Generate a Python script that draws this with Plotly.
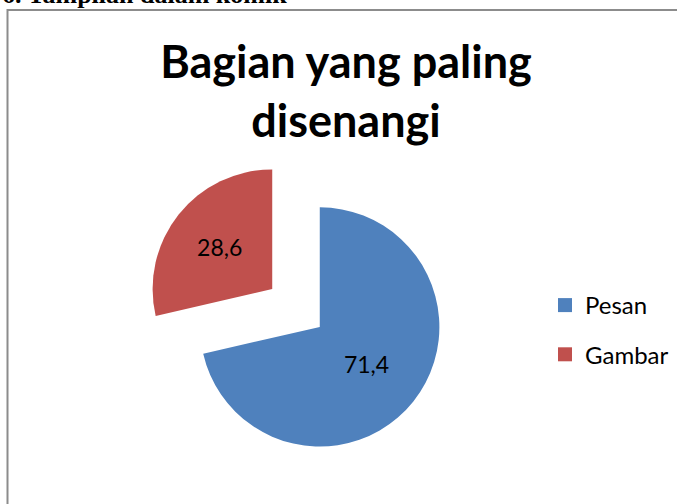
import plotly.graph_objects as go

TITLE = "Bagian yang paling<br>disenangi"
HEADING = "6. Tampilan dalam komik"

labels = ["Pesan", "Gambar"]
values = [71.4, 28.6]
colors = ["#4F81BD", "#C0504D"]

W, H = 677, 504
FONT = "Lato"

fig = go.Figure()

fig.add_trace(
    go.Pie(
        labels=labels,
        values=values,
        sort=False,
        direction="clockwise",
        rotation=0,
        pull=[0.254, 0.254],
        marker=dict(colors=colors, line=dict(width=0)),
        texttemplate="%{value:.1f}",
        textposition="inside",
        insidetextorientation="horizontal",
        textfont=dict(family=FONT, size=23, color="black"),
        hoverinfo="label+value",
        showlegend=False,
        domain=dict(x=[146 / W, 446 / W], y=[46 / H, 346 / H]),
    )
)

# legend entries, spaced like the Excel legend
for lab, col in zip(labels, colors):
    fig.add_trace(
        go.Scatter(
            x=[None], y=[None], mode="markers", name=lab, legendgroup=lab,
            marker=dict(symbol="square", size=14, color=col),
            hoverinfo="skip",
        )
    )

fig.update_layout(
    width=W,
    height=H,
    margin=dict(l=0, r=0, t=0, b=0),
    paper_bgcolor="white",
    plot_bgcolor="white",
    separators=",.",
    font=dict(family=FONT, color="black"),
    xaxis=dict(visible=False),
    yaxis=dict(visible=False),
    title=dict(
        text=TITLE,
        x=346 / W,
        xanchor="center",
        y=1 - 78 / H,
        yanchor="top",
        yref="container",
        font=dict(family=FONT, size=45, color="black", weight="bold"),
    ),
    legend=dict(
        x=545 / W,
        xanchor="left",
        y=1 - 330 / H,
        yanchor="middle",
        itemwidth=30,
        tracegroupgap=15,
        font=dict(family=FONT, size=24, color="black"),
        bgcolor="rgba(0,0,0,0)",
    ),
    shapes=[
        dict(
            type="rect", xref="paper", yref="paper",
            x0=7.5 / W, x1=1.05, y0=-0.05, y1=1 - 10 / H,
            line=dict(color="#8c8c8c", width=2),
        )
    ],
    annotations=[
        # heading of the page above the chart, cut off at the top edge
        dict(
            text=HEADING, xref="paper", yref="paper",
            x=0, xanchor="left", y=1 - 10.5 / H, yanchor="bottom",
            showarrow=False,
            font=dict(family="Liberation Serif", size=26, color="black", weight="bold"),
        )
    ],
)

fig.write_html(
    "out.html",
    config={"displayModeBar": False},
    post_script="document.body.style.margin='0';",
)
